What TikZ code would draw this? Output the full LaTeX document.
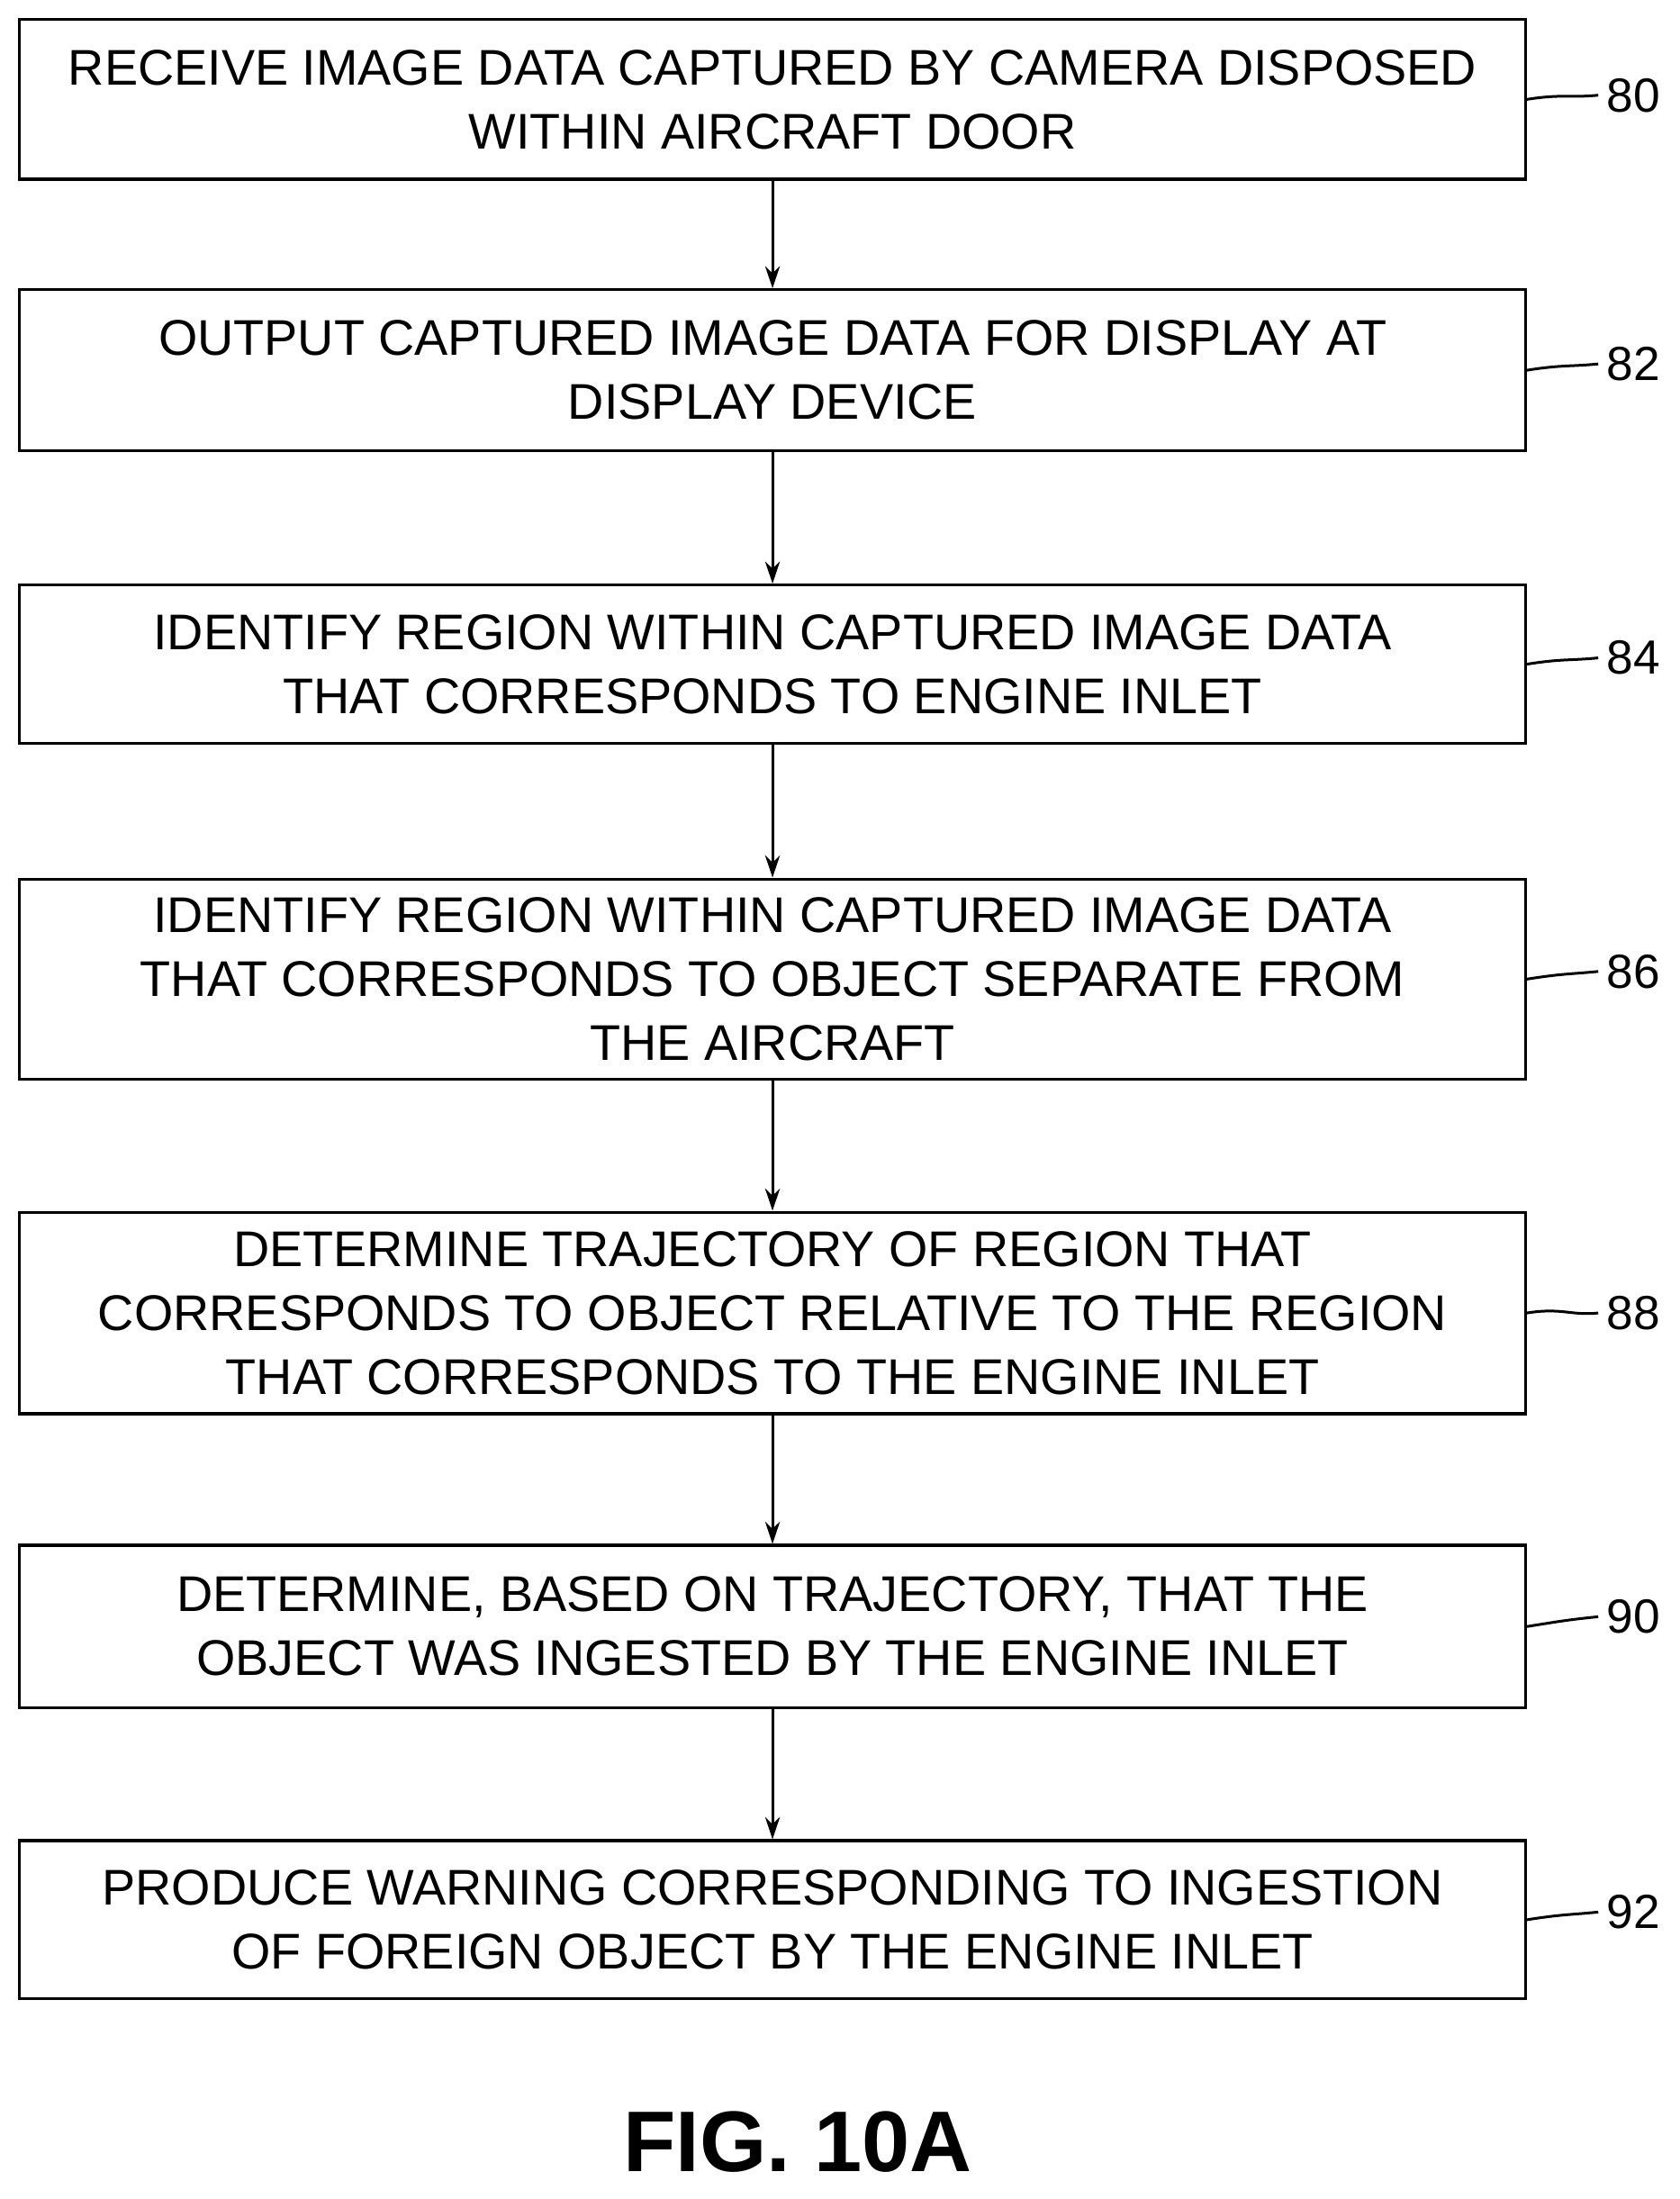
\documentclass[tikz,border=0pt]{standalone}
\usepackage{fontspec}
\setmainfont{Liberation Sans}
\usetikzlibrary{arrows.meta}

\tikzset{
    stage/.style={draw, line width=1.2pt, minimum width=1076*0.02cm, align=center,
        font=\fontsize{20.4}{26}\selectfont, inner sep=0pt},
    numeral/.style={font=\fontsize{19.5}{24}\selectfont, anchor=west},
    flow/.style={-{Stealth[length=9pt,width=6pt]}, line width=1.1pt},
    lead/.style={line width=1.1pt}
}

\begin{document}
\begin{tikzpicture}[x=0.02cm, y=-0.02cm]
    \useasboundingbox (0,0) rectangle (1200,1571);

    % stages
    \node[stage, minimum height=114*0.02cm] (s80) at (552,71) {RECEIVE IMAGE DATA CAPTURED BY CAMERA DISPOSED\\WITHIN AIRCRAFT DOOR};
    \node[stage, minimum height=115*0.02cm] (s82) at (552,264.5) {OUTPUT CAPTURED IMAGE DATA FOR DISPLAY AT\\DISPLAY DEVICE};
    \node[stage, minimum height=113*0.02cm] (s84) at (552,474.5) {IDENTIFY REGION WITHIN CAPTURED IMAGE DATA\\THAT CORRESPONDS TO ENGINE INLET};
    \node[stage, minimum height=143*0.02cm] (s86) at (552,699.5) {IDENTIFY REGION WITHIN CAPTURED IMAGE DATA\\THAT CORRESPONDS TO OBJECT SEPARATE FROM\\THE AIRCRAFT};
    \node[stage, minimum height=144*0.02cm] (s88) at (552,938) {DETERMINE TRAJECTORY OF REGION THAT\\CORRESPONDS TO OBJECT RELATIVE TO THE REGION\\THAT CORRESPONDS TO THE ENGINE INLET};
    \node[stage, minimum height=116*0.02cm] (s90) at (552,1162) {DETERMINE, BASED ON TRAJECTORY, THAT THE\\OBJECT WAS INGESTED BY THE ENGINE INLET};
    \node[stage, minimum height=113*0.02cm] (s92) at (552,1371.5) {PRODUCE WARNING CORRESPONDING TO INGESTION\\OF FOREIGN OBJECT BY THE ENGINE INLET};

    % arrows
    \draw[flow] (s80) -- (s82);
    \draw[flow] (s82) -- (s84);
    \draw[flow] (s84) -- (s86);
    \draw[flow] (s86) -- (s88);
    \draw[flow] (s88) -- (s90);
    \draw[flow] (s90) -- (s92);

    % reference numerals
    \node[numeral] (n80) at (1142,68) {80};
    \node[numeral] (n82) at (1142,260) {82};
    \node[numeral] (n84) at (1142,470) {84};
    \node[numeral] (n86) at (1142,694) {86};
    \node[numeral] (n88) at (1142,938) {88};
    \node[numeral] (n90) at (1142,1155) {90};
    \node[numeral] (n92) at (1142,1366) {92};
    \foreach \n in {80,82,84,86,88,90,92}
        \draw[lead] (s\n.east) .. controls ++(25,-4) and ++(-20,2) .. (n\n.west);

    \node[font=\bfseries\fontsize{35}{40}\selectfont] (fig) at (570,1530) {FIG. 10A};
\end{tikzpicture}
\end{document}
